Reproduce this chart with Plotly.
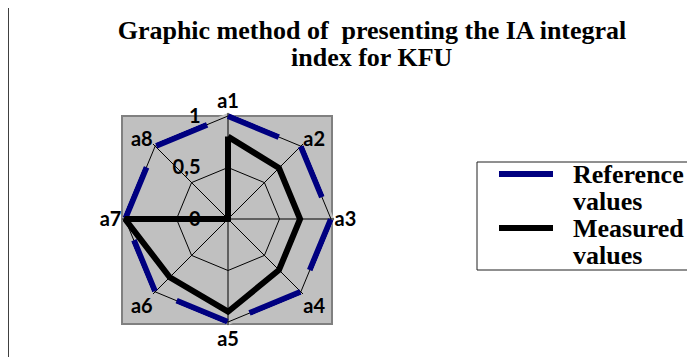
import plotly.graph_objects as go

categories = ["a1", "a2", "a3", "a4", "a5", "a6", "a7", "a8"]
reference_values = [1, 1, 1, 1, 1, 1, 1, 1]
measured_values = [0.8, 0.7, 0.7, 0.7, 0.9, 0.8, 1.0, 0.0]
radial_tickvals = [0, 0.5, 1]
radial_ticktext = ["0", "0,5", "1"]
series_names = ["Reference values", "Measured values"]
series_colors = ["#000080", "#000000"]
title_line1 = "Graphic method of  presenting the IA integral"
title_line2 = "index for KFU"

# page body has an 8px margin; figure placed at (8, 8) in the window
OFF = 8
W, H = 695 - OFF, 357 - OFF
def px(x):
    return (x - OFF) / W
def py(y):
    return 1 - (y - OFF) / H

def closed(v):
    return list(v) + [v[0]]

fig = go.Figure()
fig.add_trace(go.Scatterpolar(
    r=closed(reference_values), theta=closed(categories), mode="lines",
    name=series_names[0], showlegend=False, cliponaxis=False,
    line=dict(color=series_colors[0], width=6, dash="55px,24px"),
))
fig.add_trace(go.Scatterpolar(
    r=closed(measured_values), theta=closed(categories), mode="lines",
    name=series_names[1], showlegend=False, cliponaxis=False,
    line=dict(color=series_colors[1], width=6),
))

serif = "Liberation Serif"
cx, cy, R1 = 228, 219, 103
RMAX = 1.03           # small headroom so the r=1 line is not clipped
R = R1 * RMAX

annotations = [
    dict(text="<b>" + title_line2 + "</b>", xref="paper", yref="paper",
         x=px(372), y=py(58), xanchor="center", yanchor="middle",
         showarrow=False, font=dict(family=serif, size=26, color="black")),
]
shapes = [
    dict(type="rect", xref="paper", yref="paper", layer="below",
         x0=px(122), x1=px(332), y0=py(324), y1=py(116),
         fillcolor="#C0C0C0", line=dict(color="#808080", width=2)),
    dict(type="line", xref="paper", yref="paper", layer="below",
         x0=px(8.5), x1=px(8.5), y0=-0.1, y1=1.1,
         line=dict(color="#404040", width=1)),
    # legend frame
    dict(type="rect", xref="paper", yref="paper", layer="above",
         x0=px(477), x1=1.2, y0=py(270), y1=py(162),
         fillcolor="rgba(255,255,255,0)", line=dict(color="#202020", width=1)),
]
legend_rows = [175, 229]
for name, color, ry in zip(series_names, series_colors, legend_rows):
    shapes.append(dict(type="line", xref="paper", yref="paper", layer="above",
                       x0=px(499), x1=px(553), y0=py(ry - 1), y1=py(ry - 1),
                       line=dict(color=color, width=6)))
    words = name.split(" ")
    for k, w in enumerate(words):
        annotations.append(dict(
            text="<b>" + w + "</b>", xref="paper", yref="paper",
            x=px(571), y=py(ry + k * 26), xanchor="left", yanchor="middle",
            showarrow=False, font=dict(family=serif, size=26, color="black")))

fig.update_layout(
    width=W, height=H,
    margin=dict(l=0, r=0, t=0, b=0),
    paper_bgcolor="white", plot_bgcolor="white",
    showlegend=False,
    title=dict(text="<b>" + title_line1 + "</b>", x=px(372), xanchor="center",
               y=py(30), yanchor="middle",
               font=dict(family=serif, size=26, color="black")),
    annotations=annotations,
    polar=dict(
        domain=dict(x=[px(cx - R), px(cx + R)], y=[py(cy + R), py(cy - R)]),
        bgcolor="#C0C0C0",
        gridshape="linear",
        angularaxis=dict(
            rotation=90, direction="clockwise",
            showline=False,
            gridcolor="black", gridwidth=0.8,
            ticks="", tickfont=dict(family="Lato", size=20, color="black", weight="bold"),
        ),
        radialaxis=dict(
            range=[0, RMAX], angle=90, side="counterclockwise",
            tickvals=radial_tickvals, ticktext=radial_ticktext,
            tickangle=90,
            showline=False, ticks="outside", ticklen=20, tickcolor="rgba(0,0,0,0)",
            gridcolor="black", gridwidth=1,
            tickfont=dict(family="Lato", size=20, color="black", weight="bold"),
        ),
    ),
    shapes=shapes,
)

fig.write_html("out.html")
